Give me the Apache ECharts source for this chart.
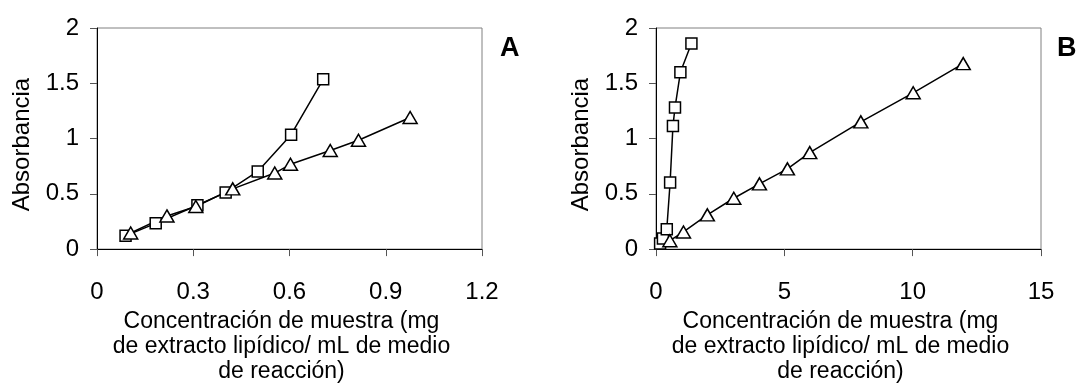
<!DOCTYPE html>
<html lang="es">
<head>
<meta charset="UTF-8">
<title>Absorbancia vs concentración</title>
<style>
  html, body, #main { width: 100%; height: 100%; margin: 0; padding: 0; background: #fff; }
</style>
<script src="https://cdn.jsdelivr.net/npm/echarts@6/dist/echarts.min.js"></script>
</head>
<body>
<div id="main"></div>
<script>
// Panel A
const aSquareX = [0.089, 0.183, 0.313, 0.401, 0.501, 0.605, 0.705];
const aSquareY = [0.12, 0.233, 0.397, 0.513, 0.703, 1.035, 1.536];
const aTriX = [0.105, 0.218, 0.308, 0.423, 0.554, 0.603, 0.727, 0.815, 0.976];
const aTriY = [0.146, 0.30, 0.385, 0.545, 0.688, 0.767, 0.892, 0.985, 1.19];
// Panel B
const bSquareX = [0.16, 0.27, 0.42, 0.55, 0.66, 0.74, 0.95, 1.38];
const bSquareY = [0.05, 0.097, 0.179, 0.603, 1.113, 1.28, 1.599, 1.859];
const bTriX = [0.54, 1.07, 2.0, 3.03, 4.03, 5.12, 5.99, 7.98, 10.02, 11.97];
const bTriY = [0.076, 0.155, 0.31, 0.46, 0.59, 0.726, 0.873, 1.151, 1.414, 1.678];

const yTitle = 'Absorbancia';
const xTitle = 'Concentración de muestra (mg\nde extracto lipídico/ mL de medio\nde reacción)';
const panelLabels = ['A', 'B'];

const FONT = '"Liberation Sans", Arial, sans-serif';

function pairs(xs, ys) {
  return xs.map((x, i) => [x, ys[i]]);
}

function xAxis(idx, max, interval) {
  return {
    type: 'value', gridIndex: idx, min: 0, max: max, interval: interval,
    splitLine: { show: false },
    axisLine: { lineStyle: { color: '#000', width: 1 } },
    axisTick: { inside: false, length: 7, lineStyle: { color: '#555' } },
    axisLabel: { color: '#000', fontSize: 24, fontFamily: FONT, margin: 31 },
    name: xTitle, nameLocation: 'middle', nameGap: 56,
    nameTextStyle: { color: '#000', fontSize: 23, fontFamily: FONT, lineHeight: 25, padding: [0, 16, 0, 0] }
  };
}

function yAxis(idx) {
  return {
    type: 'value', gridIndex: idx, min: 0, max: 2, interval: 0.5,
    splitLine: { show: false },
    axisLine: { show: true, lineStyle: { color: '#000', width: 1 } },
    axisTick: { show: true, length: 7, lineStyle: { color: '#555' } },
    axisLabel: { color: '#000', fontSize: 24, fontFamily: FONT, margin: 18 },
    name: yTitle, nameLocation: 'middle', nameGap: 63,
    nameTextStyle: { color: '#000', fontSize: 24, fontFamily: FONT, padding: [0, 12, 0, 0] }
  };
}

function series(idx, data, symbol, size) {
  return {
    type: 'line', xAxisIndex: idx, yAxisIndex: idx, data: data,
    symbol: symbol, symbolSize: size, showAllSymbol: true,
    lineStyle: { color: '#000', width: 1.5 },
    itemStyle: { color: '#fff', borderColor: '#000', borderWidth: 1.5 },
    animation: false
  };
}

const chart = echarts.init(document.getElementById('main'));
chart.setOption({
  backgroundColor: '#fff',
  animation: false,
  grid: [
    { left: 97, top: 28, width: 385, height: 228, show: true, borderColor: '#808080', borderWidth: 1 },
    { left: 656, top: 28, width: 385, height: 228, show: true, borderColor: '#808080', borderWidth: 1 }
  ],
  xAxis: [xAxis(0, 1.2, 0.3), xAxis(1, 15, 5)],
  yAxis: [yAxis(0), yAxis(1)],
  series: [
    series(0, pairs(aSquareX, aSquareY), 'rect', 11),
    series(0, pairs(aTriX, aTriY), 'triangle', [14, 12]),
    series(1, pairs(bSquareX, bSquareY), 'rect', 11),
    series(1, pairs(bTriX, bTriY), 'triangle', [14, 12])
  ],
  graphic: [
    { type: 'text', left: 500, top: 35, style: { text: panelLabels[0], font: 'bold 27px ' + FONT, fill: '#000' } },
    { type: 'text', left: 1057, top: 35, style: { text: panelLabels[1], font: 'bold 27px ' + FONT, fill: '#000' } }
  ]
});
</script>
</body>
</html>
